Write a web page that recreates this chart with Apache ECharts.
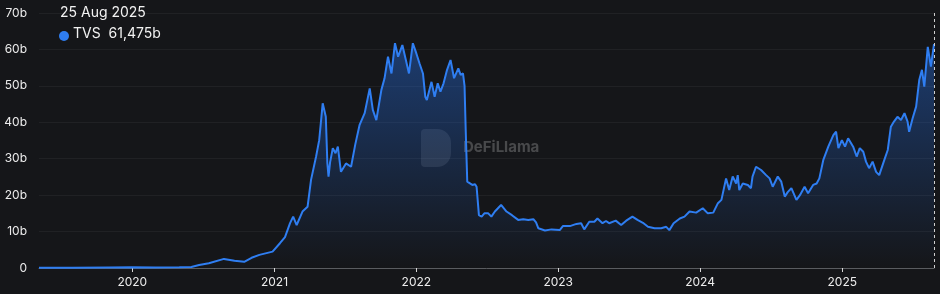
<!DOCTYPE html>
<html>
<head>
<meta charset="utf-8">
<script src="https://cdn.jsdelivr.net/npm/echarts@6/dist/echarts.min.js"></script>
<style>
html,body{margin:0;padding:0;background:#151619;}
#c{width:940px;height:294px;}
</style>
</head>
<body>
<div id="c"></div>
<script>
const dates = [
'2019-05-06','2019-08-01','2019-11-01','2020-01-01','2020-03-01','2020-05-01','2020-06-01','2020-06-21','2020-07-16','2020-08-24',
'2020-09-20','2020-10-15','2020-11-03','2020-11-23','2020-12-27','2021-01-15','2021-01-28','2021-02-10','2021-02-18','2021-02-27',
'2021-03-14','2021-03-27','2021-04-05','2021-04-18','2021-04-26','2021-05-05','2021-05-09','2021-05-13','2021-05-17','2021-05-20',
'2021-05-24','2021-05-31','2021-06-07','2021-06-13','2021-06-21','2021-07-04','2021-07-17','2021-07-28','2021-08-08','2021-08-21',
'2021-09-03','2021-09-11','2021-09-20','2021-10-03','2021-10-11','2021-10-20','2021-10-29','2021-11-07','2021-11-15','2021-11-26',
'2021-12-05','2021-12-13','2021-12-23','2022-01-01','2022-01-09','2022-01-18','2022-01-24','2022-01-28','2022-02-09','2022-02-17',
'2022-02-25','2022-03-04','2022-03-12','2022-03-21','2022-03-30','2022-04-08','2022-04-19','2022-04-25','2022-05-01','2022-05-05',
'2022-05-08','2022-05-12','2022-05-16','2022-05-25','2022-06-01','2022-06-05','2022-06-11','2022-06-18','2022-06-25','2022-07-05',
'2022-07-13','2022-07-22','2022-08-07','2022-08-21','2022-09-04','2022-09-20','2022-10-03','2022-10-16','2022-10-29','2022-11-05',
'2022-11-11','2022-11-28','2022-12-15','2023-01-05','2023-01-13','2023-01-31','2023-02-17','2023-03-01','2023-03-09','2023-03-22',
'2023-04-04','2023-04-12','2023-04-25','2023-05-04','2023-05-12','2023-05-29','2023-06-12','2023-06-25','2023-07-11','2023-07-24',
'2023-08-07','2023-08-20','2023-09-06','2023-09-23','2023-10-06','2023-10-14','2023-10-25','2023-11-10','2023-11-22','2023-12-05',
'2023-12-22','2024-01-08','2024-01-21','2024-02-04','2024-02-16','2024-02-25','2024-03-08','2024-03-16','2024-03-25','2024-04-03',
'2024-04-07','2024-04-11','2024-04-20','2024-05-03','2024-05-11','2024-05-15','2024-05-24','2024-06-06','2024-06-19','2024-06-28',
'2024-07-06','2024-07-19','2024-07-28','2024-08-06','2024-08-14','2024-08-23','2024-09-05','2024-09-14','2024-09-26','2024-10-05',
'2024-10-18','2024-10-27','2024-11-03','2024-11-13','2024-11-26','2024-12-09','2024-12-16','2024-12-22','2024-12-31','2025-01-08',
'2025-01-16','2025-01-29','2025-02-07','2025-02-15','2025-02-24','2025-03-03','2025-03-11','2025-03-20','2025-03-29','2025-04-06',
'2025-04-19','2025-04-28','2025-05-06','2025-05-14','2025-05-23','2025-06-01','2025-06-10','2025-06-18','2025-06-22','2025-07-01',
'2025-07-10','2025-07-18','2025-07-25','2025-07-31','2025-08-09','2025-08-17','2025-08-25'
];
const tvsBillions = [
0.05,0.1,0.15,0.2,0.15,0.2,0.3,0.8,1.3,2.5,
2.0,1.7,2.8,3.6,4.5,6.8,8.5,12.3,14.1,11.8,
15.5,16.8,24.2,30.6,35.1,45.2,45.0,41.5,28.8,25.1,
29.0,32.9,31.5,33.3,26.4,28.7,27.8,34.0,39.3,42.5,
49.3,43.4,40.6,48.9,52.0,58.0,53.4,61.7,58.0,61.2,
57.1,53.4,61.7,58.9,56.2,53.4,47.0,46.1,51.1,47.0,
50.7,48.4,50.7,54.4,57.1,52.1,54.8,53.0,53.4,50.0,
37.9,23.7,23.2,22.8,23.0,22.3,14.5,14.1,15.0,15.0,
14.1,15.5,17.3,15.5,14.5,13.2,13.4,13.2,13.4,12.5,
10.9,10.3,10.6,10.4,11.5,11.5,12.1,12.3,10.6,12.7,
12.7,13.6,12.3,12.9,12.3,13.0,11.8,13.0,14.1,13.2,
12.4,11.3,10.9,10.9,11.3,10.4,12.3,13.6,14.1,15.5,
15.2,16.4,15.0,15.2,17.8,18.7,24.6,21.4,25.1,23.2,
25.5,21.4,23.2,22.8,21.9,25.1,27.8,26.9,25.5,24.6,
22.3,25.1,23.7,19.6,20.9,21.9,18.7,20.0,22.3,20.5,
22.8,23.2,24.6,29.6,33.3,36.5,37.4,32.9,35.1,33.3,
35.6,33.3,30.6,32.9,31.9,29.2,27.4,29.2,26.4,25.5,
29.6,32.4,38.8,40.2,41.5,40.6,42.5,40.2,37.4,41.1,
44.3,51.6,54.4,49.8,60.7,55.3,61.475
];
const yTicks = [0,10,20,30,40,50,60,70];
const headerDate = '25 Aug 2025';
const seriesName = 'TVS';
const headerValue = '61,475b';
const watermark = 'DeFiLlama';

const chart = echarts.init(document.getElementById('c'), null, {renderer:'canvas'});
const data = dates.map((d,i)=>[d, tvsBillions[i]]);
const FONT = 'Inter, "Noto Sans", sans-serif';

chart.setOption({
  backgroundColor:'#151619',
  animation:false,
  grid:{left:39,right:6,top:13,bottom:26,containLabel:false},
  xAxis:{
    type:'time',
    min:'2019-05-06',
    max:'2025-08-25',
    minInterval:365*24*3600*1000,
    splitNumber:6,
    axisLine:{show:true,lineStyle:{color:'#5a5c60',width:1}},
    axisTick:{show:true,length:4,lineStyle:{color:'#d8d8d8'}},
    splitLine:{show:false},
    axisLabel:{color:'#ececec',fontSize:12,fontFamily:FONT,margin:8,
      formatter:function(v){return String(new Date(v).getFullYear());},
      showMinLabel:false,showMaxLabel:false}
  },
  yAxis:{
    type:'value',
    min:yTicks[0],max:yTicks[yTicks.length-1],interval:10,
    axisLine:{show:false},axisTick:{show:false},
    splitLine:{show:true,lineStyle:{color:'rgba(255,255,255,0.05)',width:1}},
    axisLabel:{color:'#ececec',fontSize:12,fontFamily:FONT,margin:12,
      formatter:function(v){return v===0?'0':v+'b';}}
  },
  series:[{
    name:seriesName,
    type:'line',
    data:data,
    showSymbol:false,
    smooth:false,
    lineStyle:{color:'#2f7ef2',width:2},
    itemStyle:{color:'#2f7ef2'},
    areaStyle:{color:new echarts.graphic.LinearGradient(0,0,0,1,[
      {offset:0,color:'rgba(38,110,225,0.62)'},
      {offset:1,color:'rgba(38,110,225,0)'}])},
    markLine:{
      silent:true,symbol:['none','none'],
      label:{show:false},
      lineStyle:{type:[3,3],color:'#cfcfcf',width:1},
      data:[{xAxis:dates[dates.length-1]}]
    }
  }],
  graphic:[
    {type:'text',left:60,top:6,style:{text:headerDate,fill:'#f2f2f2',font:'14px '+FONT}},
    {type:'circle',shape:{cx:64,cy:36,r:5},style:{fill:'#2f7ef2'}},
    {type:'text',left:73,top:27,style:{text:seriesName+'  '+headerValue,fill:'#f2f2f2',font:'14px '+FONT}},
    {type:'rect',shape:{x:421,y:129,width:30,height:38,r:[4,14,14,4]},style:{fill:'rgba(255,255,255,0.10)'},z:0},
    {type:'text',x:463,y:140,style:{text:watermark,fill:'rgba(255,255,255,0.22)',font:'bold 15px '+FONT},z:0}
  ]
});
</script>
</body>
</html>
